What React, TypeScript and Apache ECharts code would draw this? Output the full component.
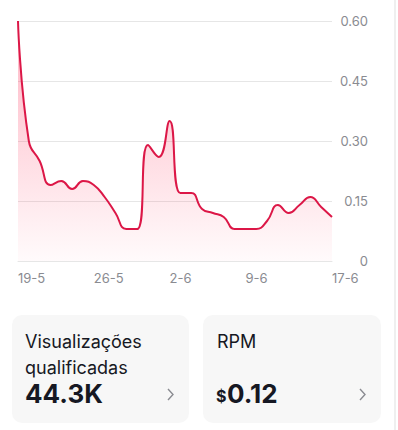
import React, { useEffect, useRef } from "react";
import * as echarts from "echarts";

const categories = [
  "19-5", "20-5", "21-5", "22-5", "23-5", "24-5", "25-5", "26-5", "27-5", "28-5",
  "29-5", "30-5", "31-5", "1-6", "2-6", "3-6", "4-6", "5-6", "6-6", "7-6",
  "8-6", "9-6", "10-6", "11-6", "12-6", "13-6", "14-6", "15-6", "16-6", "17-6",
];
const rpmValues = [
  0.6, 0.3, 0.25, 0.19, 0.2, 0.18, 0.2, 0.19, 0.16, 0.12,
  0.08, 0.08, 0.29, 0.26, 0.35, 0.17, 0.17, 0.13, 0.12, 0.11,
  0.08, 0.08, 0.08, 0.1, 0.14, 0.12, 0.14, 0.16, 0.135, 0.11,
];
const shownLabelIdx = [0, 7, 14, 21, 29];
const yTicks = { min: 0, max: 0.6, interval: 0.15 };

const cardTitleLeft = ["Visualizações", "qualificadas"];
const cardValueLeft = "44.3K";
const cardTitleRight = "RPM";
const cardCurrency = "$";
const cardValueRight = "0.12";

const INTER = "Inter, Roboto, sans-serif";

export default function App() {
  const ref = useRef<HTMLDivElement>(null);
  useEffect(() => {
    if (!ref.current) return;
    const chart = echarts.init(ref.current, null, { renderer: "svg" });
    const grey = "#8a8b91";
    const dark = "#161823";
    chart.setOption({
      animation: false,
      backgroundColor: "#ffffff",
      grid: { left: 18, right: 66, top: 21, bottom: 169, containLabel: false },
      xAxis: {
        type: "category",
        data: categories,
        boundaryGap: false,
        axisLine: { show: true, lineStyle: { color: "#e6e6e6", width: 1 } },
        axisTick: { show: false },
        splitLine: { show: false },
        axisLabel: {
          interval: (i: number) => shownLabelIdx.includes(i),
          align: "left",
          margin: 10,
          color: grey,
          fontSize: 13,
          fontFamily: INTER,
        },
      },
      yAxis: {
        type: "value",
        position: "right",
        min: yTicks.min,
        max: yTicks.max,
        interval: yTicks.interval,
        axisLine: { show: false },
        axisTick: { show: false },
        splitLine: { lineStyle: { color: "#e6e6e6", width: 1 } },
        axisLabel: {
          align: "right",
          margin: 36,
          color: grey,
          fontSize: 13,
          fontFamily: INTER,
          formatter: (v: number) => (v === 0 ? "0" : v.toFixed(2)),
        },
      },
      series: [
        {
          type: "line",
          data: rpmValues,
          smooth: 0.5,
          symbol: "none",
          lineStyle: { color: "#dc1747", width: 2 },
          areaStyle: {
            color: new echarts.graphic.LinearGradient(0, 0, 0, 1, [
              { offset: 0, color: "rgba(254, 44, 85, 0.5)" },
              { offset: 1, color: "rgba(254, 44, 85, 0.03)" },
            ]),
          },
        },
      ],
      graphic: [
        { type: "rect", shape: { x: 394, y: 0, width: 2, height: 430 }, style: { fill: "#efefef" } },
        { type: "rect", shape: { x: 12, y: 315, width: 177, height: 108, r: 10 }, style: { fill: "#f7f7f7" } },
        { type: "rect", shape: { x: 203, y: 315, width: 178, height: 108, r: 10 }, style: { fill: "#f7f7f7" } },
        { type: "text", x: 25, y: 341, style: { text: cardTitleLeft[0], fontSize: 18, fontFamily: INTER, fill: dark, verticalAlign: "middle" } },
        { type: "text", x: 25, y: 367, style: { text: cardTitleLeft[1], fontSize: 18, fontFamily: INTER, fill: dark, verticalAlign: "middle" } },
        { type: "text", x: 25, y: 393, style: { text: cardValueLeft, fontSize: 26, fontWeight: "bold", fontFamily: INTER, fill: dark, verticalAlign: "middle" } },
        { type: "text", x: 217, y: 341, style: { text: cardTitleRight, fontSize: 18, fontFamily: INTER, fill: dark, verticalAlign: "middle" } },
        { type: "text", x: 216, y: 396, style: { text: cardCurrency, fontSize: 16, fontWeight: "bold", fontFamily: INTER, fill: dark, verticalAlign: "middle" } },
        { type: "text", x: 227, y: 393, style: { text: cardValueRight, fontSize: 26, fontWeight: "bold", fontFamily: INTER, fill: dark, verticalAlign: "middle" } },
        { type: "polyline", shape: { points: [[168, 389], [173, 394.5], [168, 400]] }, style: { stroke: grey, lineWidth: 1.4, fill: "none" } },
        { type: "polyline", shape: { points: [[360, 389], [365, 394.5], [360, 400]] }, style: { stroke: grey, lineWidth: 1.4, fill: "none" } },
      ],
    });
    return () => chart.dispose();
  }, []);
  return (
    <div style={{ position: "absolute", left: 0, top: 0, width: 398, height: 430, background: "#fff" }}>
      <div ref={ref} style={{ width: 398, height: 430 }} />
    </div>
  );
}
